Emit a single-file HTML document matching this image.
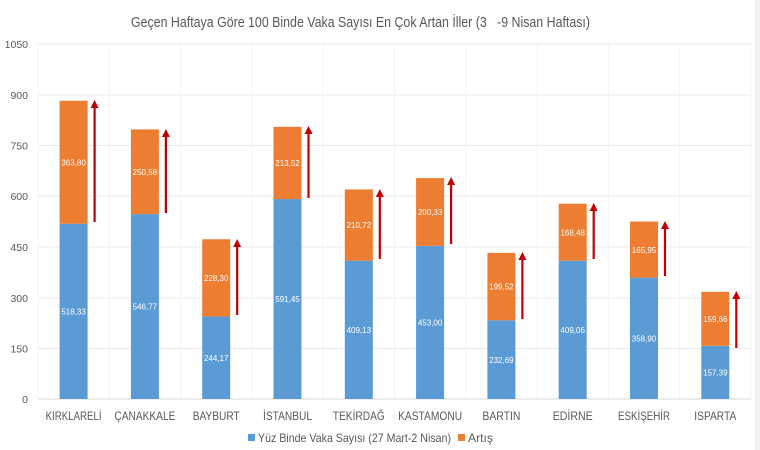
<!DOCTYPE html>
<html><head><meta charset="utf-8"><style>
body{margin:0;background:#fff}
svg{display:block;font-family:"Liberation Sans",sans-serif}
</style></head><body>
<svg width="760" height="450" viewBox="0 0 760 450" xmlns="http://www.w3.org/2000/svg">
<rect width="760" height="450" fill="#fff"/>
<rect x="755" y="0" width="5" height="450" fill="#f2f2f2"/>
<text x="131" y="27" font-size="14.5" fill="#595959" textLength="459" lengthAdjust="spacingAndGlyphs">Geçen Haftaya Göre 100 Binde Vaka Sayısı En Çok Artan İller (3&#160;&#160;&#160;-9 Nisan Haftası)</text>
<g stroke="#ebebeb" stroke-width="1">
<line x1="38" y1="44" x2="751" y2="44"/><line x1="38" y1="95" x2="751" y2="95"/><line x1="38" y1="145.5" x2="751" y2="145.5"/><line x1="38" y1="196" x2="751" y2="196"/><line x1="38" y1="247" x2="751" y2="247"/><line x1="38" y1="298" x2="751" y2="298"/><line x1="38" y1="348.5" x2="751" y2="348.5"/>
</g>
<g stroke="#f3f3f3" stroke-width="1">
<line x1="38" y1="44" x2="38" y2="399"/><line x1="109.3" y1="44" x2="109.3" y2="399"/><line x1="180.6" y1="44" x2="180.6" y2="399"/><line x1="251.9" y1="44" x2="251.9" y2="399"/><line x1="323.2" y1="44" x2="323.2" y2="399"/><line x1="394.5" y1="44" x2="394.5" y2="399"/><line x1="465.8" y1="44" x2="465.8" y2="399"/><line x1="537.1" y1="44" x2="537.1" y2="399"/><line x1="608.4" y1="44" x2="608.4" y2="399"/><line x1="679.7" y1="44" x2="679.7" y2="399"/><line x1="751" y1="44" x2="751" y2="399"/>
</g>
<line x1="38" y1="399" x2="751" y2="399" stroke="#d9d9d9"/>
<g font-size="10.5" fill="#595959" text-anchor="end">
<text x="28" y="48">1050</text><text x="28" y="99">900</text><text x="28" y="149.5">750</text><text x="28" y="200">600</text><text x="28" y="251">450</text><text x="28" y="302">300</text><text x="28" y="352.5">150</text><text x="28" y="403">0</text>
</g>
<g fill="#5b9bd5">
<rect x="59.6" y="223.75" width="28" height="175.25"/>
<rect x="130.9" y="214.14" width="28" height="184.86"/>
<rect x="202.2" y="316.45" width="28" height="82.55"/>
<rect x="273.5" y="199.03" width="28" height="199.97"/>
<rect x="344.8" y="260.67" width="28" height="138.33"/>
<rect x="416.1" y="245.84" width="28" height="153.16"/>
<rect x="487.4" y="320.33" width="28" height="78.67"/>
<rect x="558.7" y="260.7" width="28" height="138.3"/>
<rect x="630" y="277.66" width="28" height="121.34"/>
<rect x="701.3" y="345.79" width="28" height="53.21"/>
</g>
<g fill="#ed7d31">
<rect x="59.6" y="100.75" width="28" height="123"/>
<rect x="130.9" y="129.42" width="28" height="84.72"/>
<rect x="202.2" y="239.26" width="28" height="77.19"/>
<rect x="273.5" y="126.84" width="28" height="72.19"/>
<rect x="344.8" y="189.43" width="28" height="71.24"/>
<rect x="416.1" y="178.11" width="28" height="67.73"/>
<rect x="487.4" y="252.87" width="28" height="67.46"/>
<rect x="558.7" y="203.74" width="28" height="56.96"/>
<rect x="630" y="221.55" width="28" height="56.11"/>
<rect x="701.3" y="291.81" width="28" height="53.98"/>
</g>
<g font-size="8" fill="#fff" text-anchor="middle">
<text x="73.6" y="314.5">518,33</text><text x="73.6" y="165.5">363,80</text>
<text x="144.9" y="309.5">546,77</text><text x="144.9" y="175">250,58</text>
<text x="216.2" y="361">244,17</text><text x="216.2" y="281">228,30</text>
<text x="287.5" y="302">591,45</text><text x="287.5" y="166">213,52</text>
<text x="358.8" y="333">409,13</text><text x="358.8" y="228">210,72</text>
<text x="430.1" y="325.5">453,00</text><text x="430.1" y="215">200,33</text>
<text x="501.4" y="363">232,69</text><text x="501.4" y="289.5">199,52</text>
<text x="572.7" y="333">409,06</text><text x="572.7" y="235.5">168,48</text>
<text x="644" y="341.5">358,90</text><text x="644" y="253">165,95</text>
<text x="715.3" y="375.5">157,39</text><text x="715.3" y="322">159,66</text>
</g>
<g stroke="#c00000" stroke-width="2.2" fill="none">
<line x1="94.6" y1="222" x2="94.6" y2="106"/>
<line x1="165.9" y1="213" x2="165.9" y2="135"/>
<line x1="237.2" y1="315" x2="237.2" y2="245"/>
<line x1="308.5" y1="198" x2="308.5" y2="132"/>
<line x1="379.8" y1="259" x2="379.8" y2="195"/>
<line x1="451.1" y1="244" x2="451.1" y2="183"/>
<line x1="522.4" y1="319" x2="522.4" y2="258"/>
<line x1="593.7" y1="259" x2="593.7" y2="209"/>
<line x1="665" y1="276" x2="665" y2="227"/>
<line x1="736.3" y1="348" x2="736.3" y2="297"/>
</g>
<g fill="#c00000">
<polygon points="90.6,108 98.6,108 94.6,100"/>
<polygon points="161.9,137 169.9,137 165.9,129"/>
<polygon points="233.2,247 241.2,247 237.2,239"/>
<polygon points="304.5,134 312.5,134 308.5,126"/>
<polygon points="375.8,197 383.8,197 379.8,189"/>
<polygon points="447.1,185 455.1,185 451.1,177"/>
<polygon points="518.4,260 526.4,260 522.4,252"/>
<polygon points="589.7,211 597.7,211 593.7,203"/>
<polygon points="661,229 669,229 665,221"/>
<polygon points="732.3,299 740.3,299 736.3,291"/>
</g>
<g font-size="12" fill="#595959" text-anchor="middle">
<text x="73.6" y="420" textLength="56" lengthAdjust="spacingAndGlyphs">KIRKLARELİ</text>
<text x="144.9" y="420" textLength="61" lengthAdjust="spacingAndGlyphs">ÇANAKKALE</text>
<text x="216.2" y="420" textLength="47" lengthAdjust="spacingAndGlyphs">BAYBURT</text>
<text x="287.5" y="420" textLength="49" lengthAdjust="spacingAndGlyphs">İSTANBUL</text>
<text x="358.8" y="420" textLength="52" lengthAdjust="spacingAndGlyphs">TEKİRDAĞ</text>
<text x="430.1" y="420" textLength="64" lengthAdjust="spacingAndGlyphs">KASTAMONU</text>
<text x="501.4" y="420" textLength="38" lengthAdjust="spacingAndGlyphs">BARTIN</text>
<text x="572.7" y="420" textLength="40" lengthAdjust="spacingAndGlyphs">EDİRNE</text>
<text x="644" y="420" textLength="52" lengthAdjust="spacingAndGlyphs">ESKİŞEHİR</text>
<text x="715.3" y="420" textLength="42" lengthAdjust="spacingAndGlyphs">ISPARTA</text>
</g>
<rect x="248" y="434" width="7" height="7" fill="#5b9bd5"/>
<text x="258" y="442" font-size="12" fill="#595959" textLength="193" lengthAdjust="spacingAndGlyphs">Yüz Binde Vaka Sayısı (27 Mart-2 Nisan)</text>
<rect x="458" y="434" width="7" height="7" fill="#ed7d31"/>
<text x="468" y="442" font-size="12" fill="#595959" textLength="25" lengthAdjust="spacingAndGlyphs">Artış</text>
</svg>
</body></html>
